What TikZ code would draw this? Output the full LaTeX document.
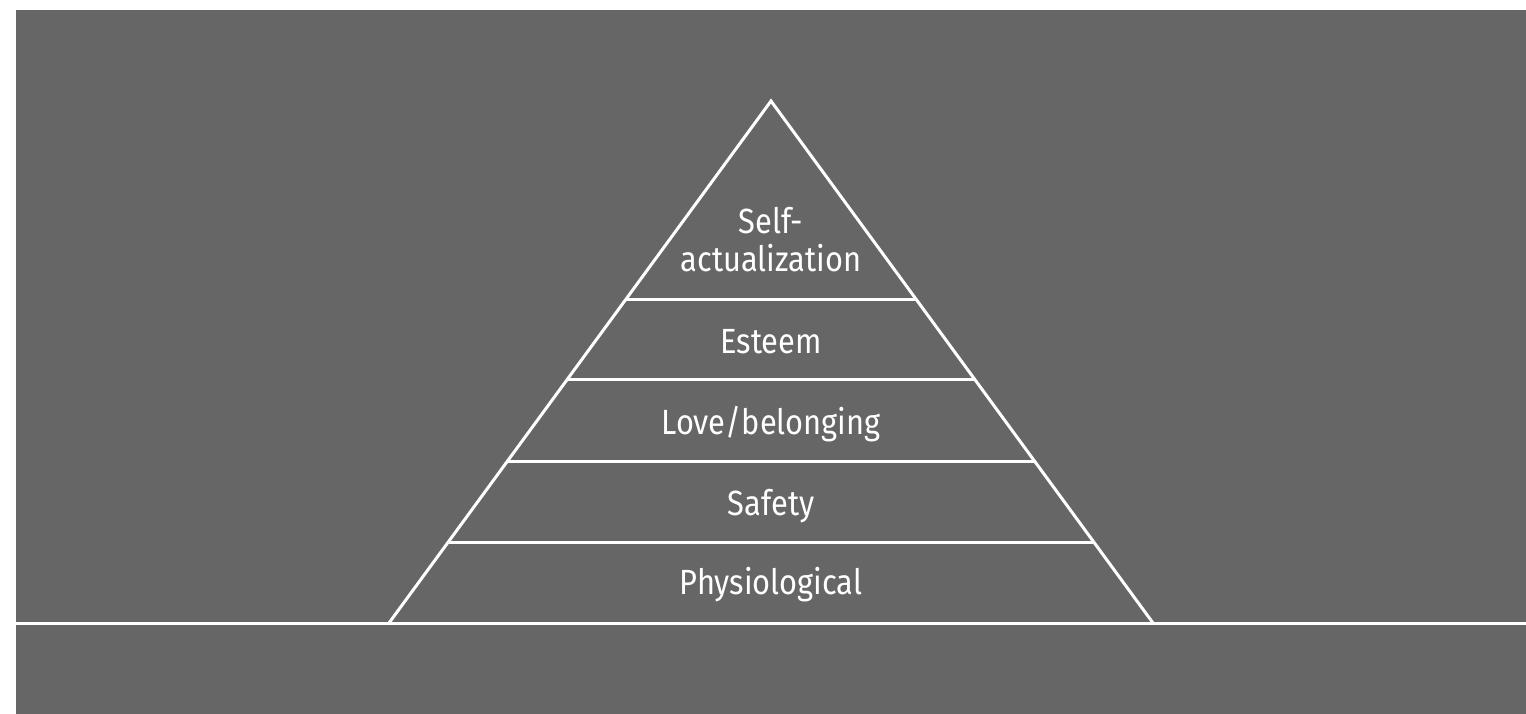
\documentclass[tikz,border=0pt]{standalone}
\usepackage{fontspec}
\setmainfont{Fira Sans}[FakeStretch=0.88]
\begin{document}
\begin{tikzpicture}[x=1pt,y=-1pt,
  wline/.style={draw=white,line width=3pt},
  lbl/.style={text=white,font=\fontsize{35}{39}\selectfont,align=center,inner sep=0pt,anchor=base}]
\definecolor{bg}{HTML}{666666}
\useasboundingbox (0,0) rectangle (1526,714);
\fill[white] (0,0) rectangle (1526,714);
\fill[bg] (16,10) rectangle (1526,714);
% pyramid
\coordinate (apex) at (771,101);
\coordinate (bl) at (389,623);
\coordinate (br) at (1153,623);
\coordinate (gl) at (16,623);
\coordinate (gr) at (1526,623);
\draw[wline] (gl) -- (gr);
\draw[wline,line join=miter] (bl) -- (apex) -- (br);
\foreach \y/\n in {299/a,379/b,461/c,542/d}{
  \path (bl) -- (apex) coordinate[pos={(623-\y)/522}] (l\n);
  \path (br) -- (apex) coordinate[pos={(623-\y)/522}] (r\n);
  \draw[wline] (l\n) -- (r\n);
}
\node[lbl] (self) at (771,272) {Self-\\actualization};
\node[lbl] (esteem) at (771,353) {Esteem};
\node[lbl] (love) at (771,434) {Love/belonging};
\node[lbl] (safety) at (771,515) {Safety};
\node[lbl] (phys) at (771,594) {Physiological};
\end{tikzpicture}
\end{document}
